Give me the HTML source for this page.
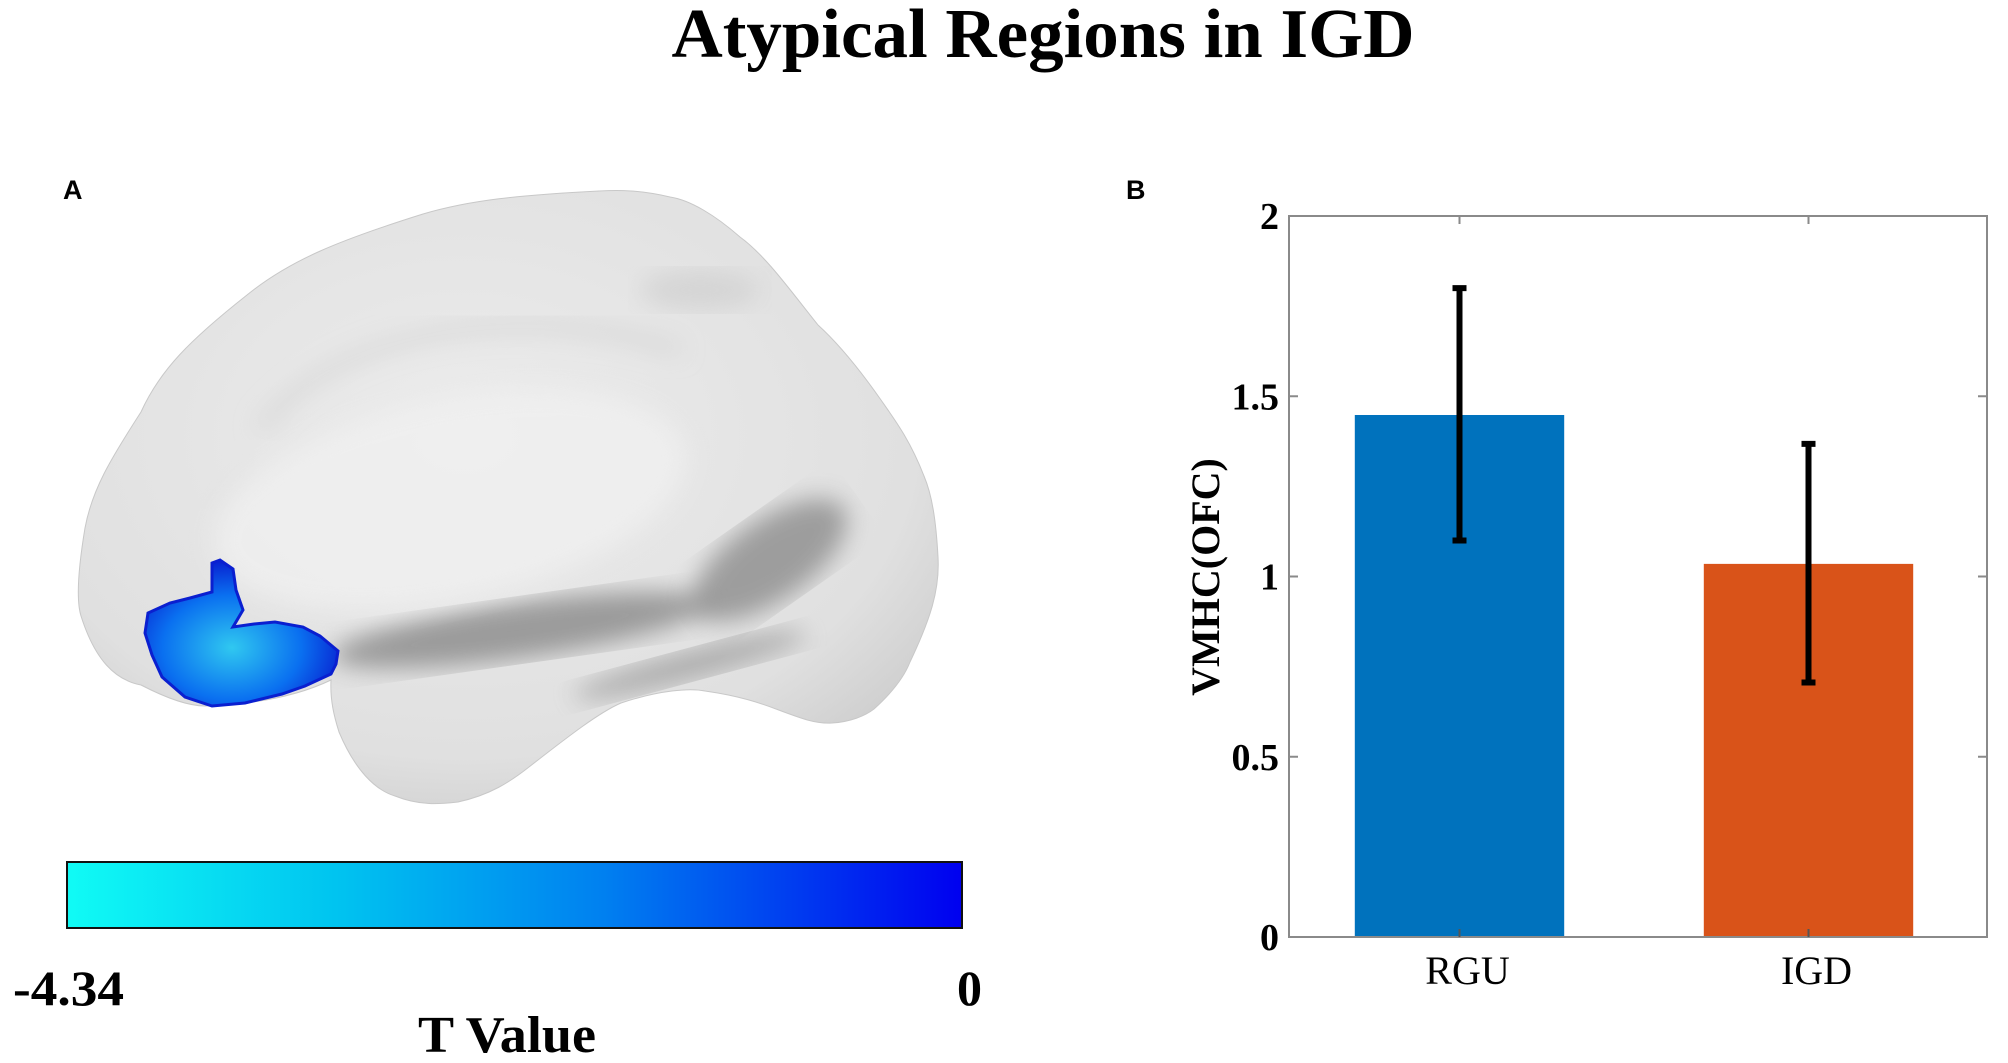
<!DOCTYPE html>
<html><head><meta charset="utf-8"><style>
html,body{margin:0;padding:0;background:#fff;}
svg{display:block;}
text{font-family:"Liberation Serif",serif;}
</style></head><body>
<svg id="fig" width="2008" height="1063" viewBox="0 0 2008 1063" xmlns="http://www.w3.org/2000/svg">
<defs>
<linearGradient id="cbar" x1="0" x2="1" y1="0" y2="0">
<stop offset="0" stop-color="#10fbf5"/>
<stop offset="0.3" stop-color="#00c4f0"/>
<stop offset="0.6" stop-color="#0080f0"/>
<stop offset="1" stop-color="#0000f0"/>
</linearGradient>
<radialGradient id="brainG" cx="0.45" cy="0.4" r="0.7">
<stop offset="0" stop-color="#ececec"/>
<stop offset="0.75" stop-color="#e0e0e0"/>
<stop offset="1" stop-color="#cacaca"/>
</radialGradient>
<radialGradient id="blobG" cx="0.45" cy="0.6" r="0.6">
<stop offset="0" stop-color="#30c8f0"/>
<stop offset="0.6" stop-color="#0a70f0"/>
<stop offset="1" stop-color="#0820d0"/>
</radialGradient>
<filter id="blur8"><feGaussianBlur stdDeviation="12"/></filter>
<clipPath id="brainClip"><path d="M599,191 C520,195 470,200 423,214 C340,240 290,260 247,295 C190,340 160,370 141,412 C110,460 92,490 85,528 C78,570 76,600 81,616 C95,660 115,680 141,685 C170,700 190,706 205,706 C260,704 300,695 331,680 C330,700 334,716 339,732 C355,770 375,790 395,796 C420,806 440,804 458,802 C490,795 510,782 529,767 C570,735 600,712 621,703 C660,690 690,688 705,691 C740,696 760,703 776,709 C800,718 815,724 832,723 C850,722 865,716 874,709 C895,690 905,675 910,662 C930,620 940,590 938,557 C936,520 932,495 924,476 C910,440 895,420 881,400 C860,370 840,345 818,325 C790,290 765,255 740,237 C715,215 690,200 670,197 C640,190 620,190 599,191 Z"/></clipPath>
</defs>

<text x="1043" y="57" font-size="70" font-weight="bold" text-anchor="middle" textLength="743" lengthAdjust="spacingAndGlyphs">Atypical Regions in IGD</text>

<!-- Panel A -->
<text x="63" y="199" font-size="27" font-weight="bold" style="font-family:'Liberation Sans',sans-serif">A</text>
<g>
<path d="M599,191 C520,195 470,200 423,214 C340,240 290,260 247,295 C190,340 160,370 141,412 C110,460 92,490 85,528 C78,570 76,600 81,616 C95,660 115,680 141,685 C170,700 190,706 205,706 C260,704 300,695 331,680 C330,700 334,716 339,732 C355,770 375,790 395,796 C420,806 440,804 458,802 C490,795 510,782 529,767 C570,735 600,712 621,703 C660,690 690,688 705,691 C740,696 760,703 776,709 C800,718 815,724 832,723 C850,722 865,716 874,709 C895,690 905,675 910,662 C930,620 940,590 938,557 C936,520 932,495 924,476 C910,440 895,420 881,400 C860,370 840,345 818,325 C790,290 765,255 740,237 C715,215 690,200 670,197 C640,190 620,190 599,191 Z" fill="url(#brainG)" stroke="#c8c8c8" stroke-width="1"/>
<g clip-path="url(#brainClip)">
<ellipse cx="520" cy="630" rx="190" ry="28" fill="#6a6a6a" opacity="0.6" filter="url(#blur8)" transform="rotate(-8 520 630)"/>
<ellipse cx="770" cy="560" rx="90" ry="40" fill="#707070" opacity="0.6" filter="url(#blur8)" transform="rotate(-35 770 560)"/>
<ellipse cx="690" cy="665" rx="120" ry="14" fill="#808080" opacity="0.55" filter="url(#blur8)" transform="rotate(-15 690 665)"/>
<ellipse cx="450" cy="500" rx="240" ry="100" fill="#f0f0f0" opacity="0.8" filter="url(#blur8)" transform="rotate(-12 450 500)"/>
<ellipse cx="700" cy="290" rx="60" ry="20" fill="#cfcfcf" opacity="0.7" filter="url(#blur8)"/>
<path d="M260,430 C330,330 520,300 680,350" stroke="#cfcfcf" stroke-width="8" fill="none" filter="url(#blur8)"/>
</g>
<path d="M212,563 L220,560 L233,569 L236,590 L243,610 L233,627 L254,624 L275,622 L303,627 L320,636 L338,651 L336,664 L331,674 L305,686 L282,694 L245,703 L212,706 L185,697 L162,677 L152,655 L145,633 L148,613 L170,603 L190,598 L212,592 Z" fill="url(#blobG)" stroke="#0a1fd0" stroke-width="3"/>
</g>
<rect x="67" y="862" width="895" height="66" fill="url(#cbar)" stroke="#111" stroke-width="2"/>
<text x="13" y="1005" font-size="50" font-weight="bold" textLength="111" lengthAdjust="spacingAndGlyphs">-4.34</text>
<text x="957" y="1005" font-size="50" font-weight="bold">0</text>
<text x="507" y="1052" font-size="52" font-weight="bold" text-anchor="middle" textLength="178" lengthAdjust="spacingAndGlyphs">T Value</text>

<!-- Panel B -->
<text x="1126" y="199" font-size="27" font-weight="bold" style="font-family:'Liberation Sans',sans-serif">B</text>
<g id="chart"></g>
</svg>
<script>
const categories = ["RGU", "IGD"];
const means = [1.448, 1.035];
const errLow = [1.10, 0.706];
const errHigh = [1.80, 1.368];
const yTicks = [0, 0.5, 1, 1.5, 2];
const yTickLabels = ["0", "0.5", "1", "1.5", "2"];
const barColors = ["#0072BD", "#D95319"];

const NS = "http://www.w3.org/2000/svg";
const L = 1289, R = 1987, T = 216, B = 937;
const yMin = 0, yMax = 2;
function yS(v){ return B - (v - yMin) / (yMax - yMin) * (B - T); }
const slot = (R - L) / categories.length;
function xS(i){ return L + slot * (i + 0.5) - 4; }
const barW = 0.6 * slot;
const g = document.getElementById('chart');
function mk(tag, attrs){ const e = document.createElementNS(NS, tag); for (const k in attrs) e.setAttribute(k, attrs[k]); g.appendChild(e); return e; }

categories.forEach((c, i) => {
  const cx = xS(i);
  const bar = mk('rect', {x: cx - barW/2, y: yS(means[i]), width: barW, height: yS(0) - yS(means[i]), fill: barColors[i]});
  
  
});
const box = mk('rect', {x: L, y: T, width: R - L, height: B - T, fill: 'none', stroke: '#8a8a8a', 'stroke-width': 2});


yTicks.forEach((v, i) => {
  const y = yS(v);
  const t1 = mk('line', {x1: L, x2: L + 9, y1: y, y2: y, stroke: '#8a8a8a', 'stroke-width': 2});
  
  
  const t2 = mk('line', {x1: R, x2: R - 9, y1: y, y2: y, stroke: '#8a8a8a', 'stroke-width': 2});
  
  
  const lb = mk('text', {x: L - 10, y: y + 13, 'font-size': 38, 'font-weight': 'bold', 'text-anchor': 'end'});
  lb.textContent = yTickLabels[i];
  
  
});
categories.forEach((c, i) => {
  const cx = xS(i);
  const tb = mk('line', {x1: cx, x2: cx, y1: B, y2: B - 8, stroke: '#555', 'stroke-width': 2});
  
  
  const tt = mk('line', {x1: cx, x2: cx, y1: T, y2: T + 8, stroke: '#8a8a8a', 'stroke-width': 2});
  
  
  const lb = mk('text', {x: cx + 8, y: 984, 'font-size': 40, 'text-anchor': 'middle'});
  lb.textContent = c;
  
  
  const eb = mk('path', {d: `M${cx},${yS(errHigh[i])}V${yS(errLow[i])}M${cx-7},${yS(errHigh[i])}H${cx+7}M${cx-7},${yS(errLow[i])}H${cx+7}`, stroke: '#000', 'stroke-width': 6, fill: 'none'});
  
  
});
const yl = mk('text', {x: 0, y: 0, 'font-size': 40, 'font-weight': 'bold', 'text-anchor': 'middle', transform: 'translate(1219,577) rotate(-90)'});
yl.textContent = 'VMHC(OFC)';


</script>
</body></html>
